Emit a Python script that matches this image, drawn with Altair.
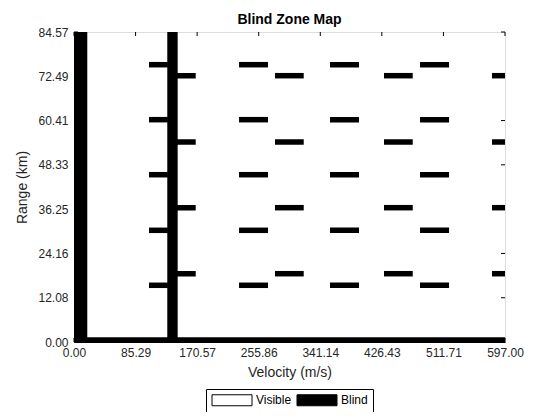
import altair as alt
import pandas as pd

# Axis tick values
x_ticks = [0.00, 85.29, 170.57, 255.86, 341.14, 426.43, 511.71, 597.00]
y_ticks = [0.00, 12.08, 24.16, 36.25, 48.33, 60.41, 72.49, 84.57]

# Full-height velocity blind bands (m/s)
vband_lo = [0.0, 129.2]
vband_hi = [18.4, 143.6]

# Near-range blind band (km)
rband_lo = [0.0]
rband_hi = [1.3]

# Blind dashes, set A
rowA_range = [75.65, 60.65, 45.64, 30.47, 15.47]
rowA_vlo = [103.9, 228.6, 354.6, 479.3]
rowA_vhi = [130.0, 268.7, 394.8, 519.5]
# Blind dashes, set B
rowB_range = [72.65, 54.56, 36.64, 18.63]
rowB_vlo = [140.0, 278.4, 429.4, 579.0]
rowB_vhi = [168.6, 318.2, 469.2, 597.0]
dash_half = 0.75

XMAX, YMAX = 597.0, 84.57

rows = []
for lo, hi in zip(rowA_vlo, rowA_vhi):
    for r in rowA_range:
        rows.append(dict(v0=lo, v1=hi, r0=r - dash_half, r1=r + dash_half, s="Blind"))
for lo, hi in zip(rowB_vlo, rowB_vhi):
    for r in rowB_range:
        rows.append(dict(v0=lo, v1=hi, r0=r - dash_half, r1=r + dash_half, s="Blind"))
for lo, hi in zip(vband_lo, vband_hi):
    rows.append(dict(v0=lo, v1=hi, r0=0.0, r1=YMAX, s="Blind"))
for lo, hi in zip(rband_lo, rband_hi):
    rows.append(dict(v0=0.0, v1=XMAX, r0=lo, r1=hi, s="Blind"))
df = pd.DataFrame(rows)

W, H = 431, 310
FONT = "Liberation Sans"

xs = alt.Scale(domain=[0, XMAX], nice=False, zero=False)
ys = alt.Scale(domain=[0, YMAX], nice=False, zero=False)

rects = alt.Chart(df).mark_rect().encode(
    x=alt.X("v0:Q", scale=xs,
            axis=alt.Axis(title="Velocity (m/s)", values=x_ticks, format=".2f",
                          grid=False, tickSize=0, labelPadding=5, titlePadding=7,
                          labelFontSize=12, titleFontSize=14, labelFont=FONT, titleFont=FONT,
                          labelColor="#262626", titleColor="#262626", titleFontWeight="normal",
                          domainColor="black", labelFlush=False)),
    x2="v1:Q",
    y=alt.Y("r0:Q", scale=ys,
            axis=alt.Axis(title="Range (km)", values=y_ticks, format=".2f",
                          grid=False, tickSize=0, labelPadding=6, titlePadding=8,
                          labelFontSize=12, titleFontSize=14, labelFont=FONT, titleFont=FONT,
                          labelColor="#262626", titleColor="#262626", titleFontWeight="normal",
                          domainColor="black", labelFlush=False)),
    y2="r1:Q",
    color=alt.Color("s:N", scale=alt.Scale(domain=["Visible", "Blind"], range=["white", "black"]),
                    legend=alt.Legend(title=None, orient="none", legendX=132, legendY=357,
                                      direction="horizontal",
                                      symbolType="M-4,-1.1H4V1.1H-4Z", symbolSize=100,
                                      symbolOffset=15,
                                      symbolStrokeColor="black", symbolStrokeWidth=1,
                                      labelFont=FONT, labelFontSize=12, labelColor="black",
                                      strokeColor="black", padding=5, columnPadding=3,
                                      labelOffset=18, fillColor="white")),
)

xt = pd.DataFrame({"t": x_ticks})
yt = pd.DataFrame({"t": y_ticks})
TL = 4
xb = alt.Chart(xt).mark_rule(color="black").encode(x=alt.X("t:Q", scale=xs), y=alt.value(H), y2=alt.value(H - TL))
xtop = alt.Chart(xt).mark_rule(color="black").encode(x=alt.X("t:Q", scale=xs), y=alt.value(0), y2=alt.value(TL))
yl = alt.Chart(yt).mark_rule(color="black").encode(y=alt.Y("t:Q", scale=ys), x=alt.value(0), x2=alt.value(TL))
yr = alt.Chart(yt).mark_rule(color="black").encode(y=alt.Y("t:Q", scale=ys), x=alt.value(W - TL), x2=alt.value(W))

chart = alt.layer(rects, xb, xtop, yl, yr).properties(
    width=W, height=H,
    title=alt.TitleParams("Blind Zone Map", font=FONT, fontSize=14, fontWeight="bold",
                          color="black", offset=6, dy=7),
    autosize=alt.AutoSizeParams(type="none"),
    padding={"left": 66, "top": 24, "right": 40, "bottom": 70},
).configure_view(stroke="black", strokeWidth=1).configure(background="white")

chart.save("out.html", embed_options={"renderer": "svg", "actions": False})
